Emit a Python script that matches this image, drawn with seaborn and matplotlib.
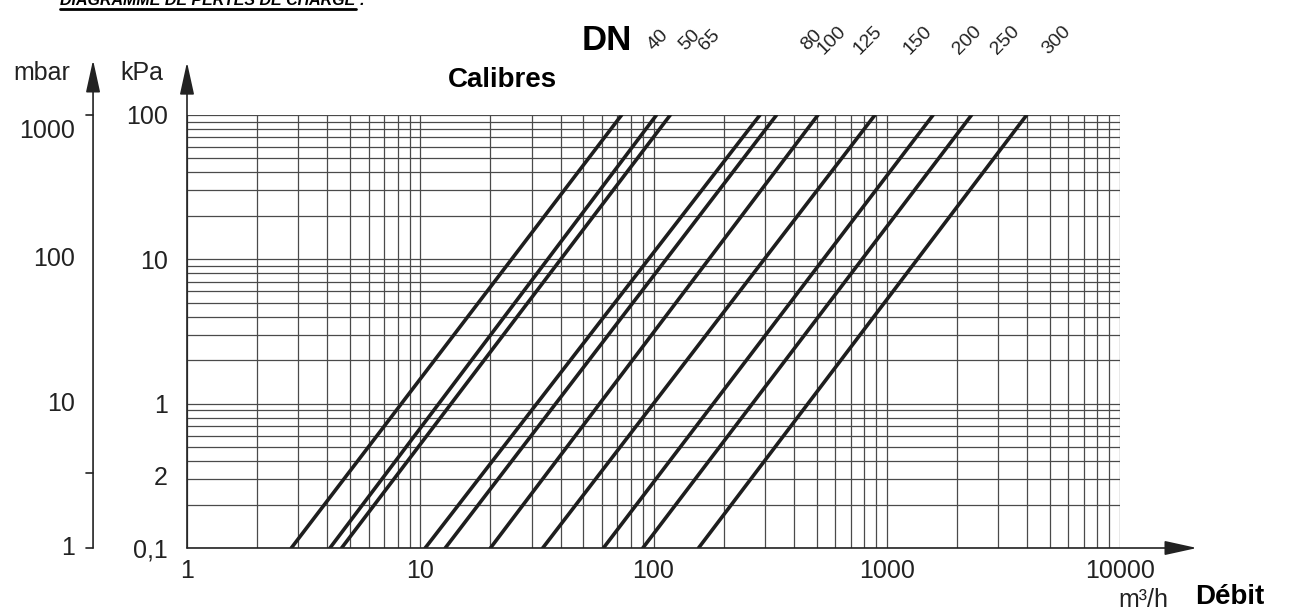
import numpy as np
import pandas as pd
import matplotlib.pyplot as plt
import seaborn as sns
from matplotlib.lines import Line2D

# DN sizes and the flow (m3/h) where each curve crosses 0.1 kPa and 100 kPa
dn_sizes = [40, 50, 65, 80, 100, 125, 150, 200, 250, 300]
flow_at_low = [2.8, 4.1, 4.6, 10.5, 12.8, 20, 33.5, 61, 90, 156]
flow_at_high = [73, 103, 118, 286, 337, 507, 890, 1580, 2310, 3980]
dp_ends = [0.1, 100]

y_ticks = [0.1, 0.32, 1, 10, 100]
y_labels = ['0,1', '2', '1', '10', '100']
x_ticks = [1, 10, 100, 1000, 10000]
x_labels = ['1', '10', '100', '1000', '10000']
mbar_values = [1, 10, 100, 1000]
mbar_labels = ['1', '10', '100', '1000']

W, H = 1294, 614
TXT = '#222222'


def px(x, y):
    return x / W, 1 - y / H


rows = []
for dn, q0, q1 in zip(dn_sizes, flow_at_low, flow_at_high):
    rows.append({'DN': dn, 'Q': q0, 'dp': dp_ends[0]})
    rows.append({'DN': dn, 'Q': q1, 'dp': dp_ends[1]})
df = pd.DataFrame(rows)

sns.set_style('white')
plt.rcParams['font.family'] = ['Liberation Sans', 'DejaVu Sans']

fig = plt.figure(figsize=(W / 100, H / 100), dpi=100)
ax = fig.add_axes([187 / W, 1 - 548 / H, (1120 - 187) / W, (548 - 115) / H])
ax.set_xscale('log')
ax.set_yscale('log')
ax.set_xlim(1, 10000)
ax.set_ylim(0.1, 100)

# log grid, drawn by hand so the odd "2" tick adds no line
grid_kw = dict(color='#4a4a4a', lw=0.9, zorder=1)
for dec in [1, 10, 100, 1000]:
    for m in range(1, 10):
        ax.axvline(dec * m, **grid_kw)
ax.axvline(10000, **grid_kw)
for dec in [0.1, 1, 10]:
    for m in range(1, 10):
        ax.axhline(dec * m, **grid_kw)
ax.axhline(100, **grid_kw)

sns.lineplot(data=df, x='Q', y='dp', units='DN', estimator=None,
             color='#1e1e1e', lw=2.6, ax=ax, zorder=3, legend=False)

for s in ax.spines.values():
    s.set_visible(False)
ax.set_xlabel('')
ax.set_ylabel('')
ax.set_yticks(y_ticks)
ax.set_yticklabels(y_labels)
ax.set_xticks(x_ticks)
ax.set_xticklabels(x_labels)
ax.minorticks_off()
ax.tick_params(axis='y', length=0, pad=14, labelsize=18, labelcolor=TXT)
ax.tick_params(axis='x', length=0, pad=8, labelsize=18, labelcolor=TXT)

# axis arrows
arr = dict(arrowstyle='-|>,head_length=1.0,head_width=0.22', lw=1.2,
           color='#222222', mutation_scale=20, shrinkA=0, shrinkB=0)
ax.annotate('', xy=(1.0825, 0), xytext=(0, 0), xycoords='axes fraction',
            arrowprops=arr, annotation_clip=False)
ax.annotate('', xy=(0, 1.122), xytext=(0, 0), xycoords='axes fraction',
            arrowprops=arr, annotation_clip=False)
mx = -0.1007
ax.annotate('', xy=(mx, 1.127), xytext=(mx, 0), xycoords='axes fraction',
            arrowprops=arr, annotation_clip=False)
for fy in [0, 0.173, 1.0]:
    ax.add_line(Line2D([mx - 0.008, mx], [fy, fy], transform=ax.transAxes,
                       color='#222222', lw=1.2, clip_on=False))

# mbar labels
tr = ax.get_yaxis_transform()
for v, lab in zip(mbar_values, mbar_labels):
    yv = v / 10 if v < 1000 else 78
    ax.text(-0.12, yv, lab, transform=tr, ha='right', va='center',
            fontsize=18, color=TXT)

fig.text(*px(42, 73), 'mbar', ha='center', va='center', fontsize=18, color=TXT)
fig.text(*px(142, 73), 'kPa', ha='center', va='center', fontsize=18, color=TXT)
fig.text(*px(502, 80), 'Calibres', ha='center', va='center', fontsize=20,
         fontweight='bold', color='black')
fig.text(*px(607, 40), 'DN', ha='center', va='center', fontsize=25,
         fontweight='bold', color='black')

dn_label_x = [658, 690, 710, 812, 832, 868, 918, 967, 1005, 1057]
for dn, xp in zip(dn_sizes, dn_label_x):
    fig.text(*px(xp, 40), str(dn), ha='center', va='center', rotation=45,
             fontsize=14, color=TXT)

fig.text(*px(1143, 600), 'm³/h', ha='center', va='center', fontsize=18, color=TXT)
fig.text(*px(1230, 597), 'Débit', ha='center', va='center', fontsize=20,
         fontweight='bold', color='black')

# cropped page title
fig.text(*px(60, 5), 'DIAGRAMME DE PERTES DE CHARGE :', ha='left', va='baseline',
         fontsize=11.5, fontweight='bold', fontstyle='italic', color='black')
fig.add_artist(Line2D([60 / W, 356 / W], [1 - 9 / H, 1 - 9 / H],
                      transform=fig.transFigure, color='black', lw=2))

fig.savefig('out.png', dpi=100)
